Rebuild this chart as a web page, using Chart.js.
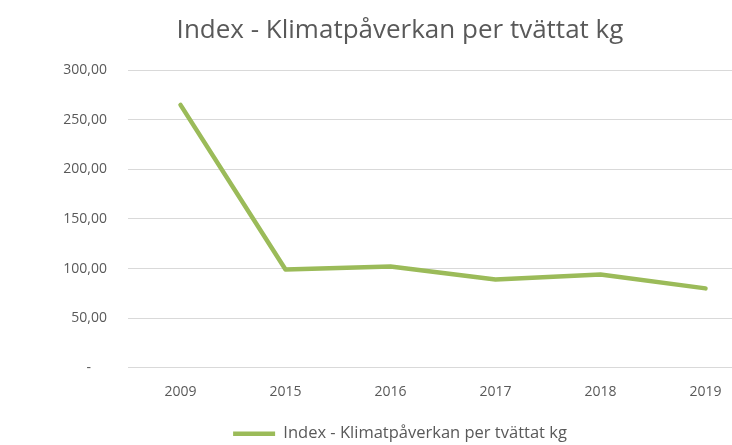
<!DOCTYPE html>
<html>
<head>
<meta charset="utf-8">
<script src="https://cdn.jsdelivr.net/npm/chart.js@4/dist/chart.umd.min.js"></script>
<style>
  html, body { margin: 0; padding: 0; background: #fff; overflow: hidden; }
  #wrap { width: 800px; height: 445px; overflow: hidden; }
</style>
</head>
<body>
<div id="wrap"><canvas id="grafico" width="800" height="452"></canvas></div>
<script>
// === Dados ===
const titulo = "Index - Klimatpåverkan per tvättat kg";
const anos = ["2009", "2015", "2016", "2017", "2018", "2019"];
const indice = [265, 99, 102, 89, 94, 80];
const ticksY = [0, 50, 100, 150, 200, 250, 300];

const cinza = "#595959";
const verde = "#9bbb59";

function formatarTick(v) {
    if (v === 0) return "-\u2007\u2007";
    return v.toFixed(2).replace(".", ",");
}

const ctx = document.getElementById("grafico").getContext("2d");
new Chart(ctx, {
    type: "line",
    data: {
        labels: anos,
        datasets: [{
            label: titulo,
            data: indice,
            borderColor: verde,
            backgroundColor: verde,
            borderWidth: 4.5,
            borderCapStyle: "round",
            borderJoinStyle: "round",
            pointRadius: 0,
            tension: 0,
            fill: false
        }]
    },
    options: {
        responsive: false,
        animation: false,
        layout: { padding: { left: 42, right: 42, top: 0, bottom: 0 } },
        plugins: {
            title: {
                display: true,
                text: titulo,
                color: cinza,
                font: { family: "Open Sans", size: 26, weight: "normal" },
                padding: { top: 15, bottom: 24 }
            },
            legend: {
                position: "bottom",
                labels: {
                    color: cinza,
                    font: { family: "Open Sans", size: 16.5 },
                    usePointStyle: true,
                    pointStyle: "line",
                    pointStyleWidth: 42,
                    padding: 2
                }
            },
            tooltip: { enabled: false }
        },
        scales: {
            x: {
                offset: true,
                afterFit: s => { s.height += 7; },
                grid: { display: false, drawTicks: false },
                border: { display: false },
                ticks: { color: cinza, font: { family: "Open Sans", size: 14 }, padding: 16 }
            },
            y: {
                min: 0,
                max: 300,
                afterBuildTicks: s => { s.ticks = ticksY.map(v => ({ value: v })); },
                afterFit: s => { s.width = 86; },
                grid: { color: "#d9d9d9", lineWidth: 1, drawTicks: false },
                border: { display: false },
                ticks: {
                    color: cinza,
                    font: { family: "Open Sans", size: 14 },
                    padding: 21,
                    callback: v => formatarTick(v)
                }
            }
        }
    }
});
</script>
</body>
</html>
